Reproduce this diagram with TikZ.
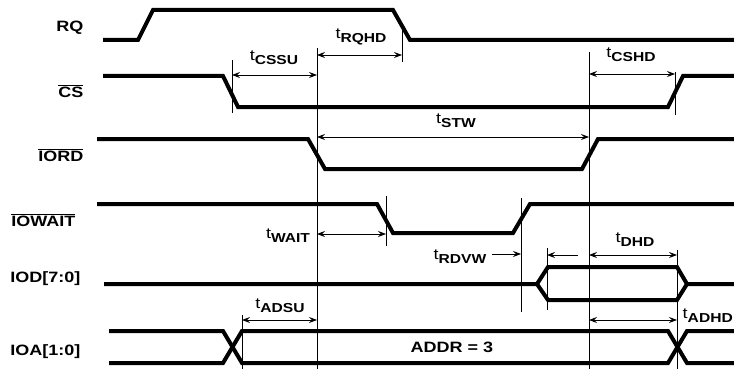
\documentclass[tikz,border=0pt]{standalone}
\usepackage{fontspec}
\newfontfamily\sigfont{Liberation Sans}[FakeStretch=1.2]
\usetikzlibrary{arrows.meta}
% timing parameter label: t with a lowered subscript
\newcommand{\tm}[1]{{\mdseries\fontsize{15}{15}\selectfont t}\raisebox{-4pt}{\fontsize{13}{13}\selectfont\bfseries #1}}
\newcommand{\ovl}[1]{$\overline{\mbox{#1}}$}
% dimension arrow between two marker lines at height #3
\newcommand{\tdim}[3]{\draw[dim] (#1 |- 0,#3) -- (#2 |- 0,#3);}

\begin{document}
\begin{tikzpicture}[x=1pt, y=-1pt,
	font={\sigfont\bfseries\fontsize{15}{18}\selectfont},
	>={Stealth[length=8pt,width=6pt,inset=3pt]},
	sig/.style={line width=4pt},
	thinline/.style={line width=0.8pt},
	dim/.style={thinline, <->}]
	\useasboundingbox (0,0) rectangle (734,369);

	%--- signal names ---
	\node[anchor=base east] (nrq)   at (87,32)  {RQ};
	\node[anchor=base east] (ncs)   at (87,97)  {\ovl{CS}};
	\node[anchor=base east] (nrd)   at (87,161) {\ovl{IORD}};
	\node[anchor=base east] (nwait) at (79,226) {\ovl{IOWAIT}};
	\node[anchor=base east] (niod)  at (84,282) {IOD[7:0]};
	\node[anchor=base east] (nioa)  at (84,355) {IOA[1:0]};

	%--- marker lines (x / top / bottom / name) ---
	\foreach \x/\ya/\yb/\n in {232/60/113/csfall, 402/27/62/rqfall, 317/48/369/rdfall,
		589/52/369/rdrise, 675/72/115/csrise, 386/196/246/waitfall, 521/198/312/waitrise,
		547/248/310/dvalid, 677/250/369/dend, 242/315/369/adx}{
		\coordinate (\n) at (\x,\ya);
		\draw[thinline] (\n) -- (\x,\yb);
	}

	%--- waveforms ---
	\draw[sig] (103,40) -- (138,40) -- (153,10) -- (393,10) -- (410,40) -- (734,40);
	\draw[sig] (103,76) -- (223,76) -- (238,107) -- (668,107) -- (683,76) -- (734,76);
	\draw[sig] (97,139) -- (308,139) -- (325,169) -- (582,169) -- (598,139) -- (734,139);
	\draw[sig] (97,204) -- (377,204) -- (393,233) -- (513,233) -- (530,204) -- (734,204);
	% data bus
	\draw[sig] (104,284) -- (537,284) -- (548,267) -- (677,267) -- (687,284) -- (734,284);
	\draw[sig] (537,284) -- (548,300) -- (677,300) -- (687,284);
	% address bus
	\draw[sig] (109,331) -- (223,331) -- (242,363) -- (668,363) -- (687,331) -- (734,331);
	\draw[sig] (109,363) -- (223,363) -- (242,331) -- (668,331) -- (687,363) -- (734,363);
	\node (addr) at (452,347) {ADDR = 3};

	%--- timing parameters ---
	\tdim{csfall}{rdfall}{75}
	\node[anchor=base] (lcssu) at (274,61) {\tm{CSSU}};
	\tdim{rdfall}{rqfall}{55}
	\node[anchor=base] (lrqhd) at (361,39) {\tm{RQHD}};
	\tdim{rdrise}{csrise}{74}
	\node[anchor=base] (lcshd) at (631,58) {\tm{CSHD}};
	\tdim{rdfall}{rdrise}{137}
	\node[anchor=base] (lstw) at (456,124) {\tm{STW}};
	\tdim{rdfall}{waitfall}{234}
	\node[anchor=base] (lwait) at (288,238) {\tm{WAIT}};
	\coordinate (rdvwst) at (492,254);
	\draw[thinline, ->] (rdvwst) -- (waitrise |- rdvwst);
	\node[anchor=base] (lrdvw) at (460,259) {\tm{RDVW}};
	\coordinate (dhdst) at (578,255);
	\draw[thinline, ->] (dhdst) -- (dvalid |- dhdst);
	\tdim{rdrise}{dend}{255}
	\node[anchor=base] (ldhd) at (635,242) {\tm{DHD}};
	\tdim{adx}{rdfall}{320}
	\node[anchor=base] (ladsu) at (280,308) {\tm{ADSU}};
	\tdim{rdrise}{dend}{320}
	\node[anchor=base east, inner sep=0pt] (ladhd) at (733,318) {\tm{ADHD}};
\end{tikzpicture}
\end{document}
